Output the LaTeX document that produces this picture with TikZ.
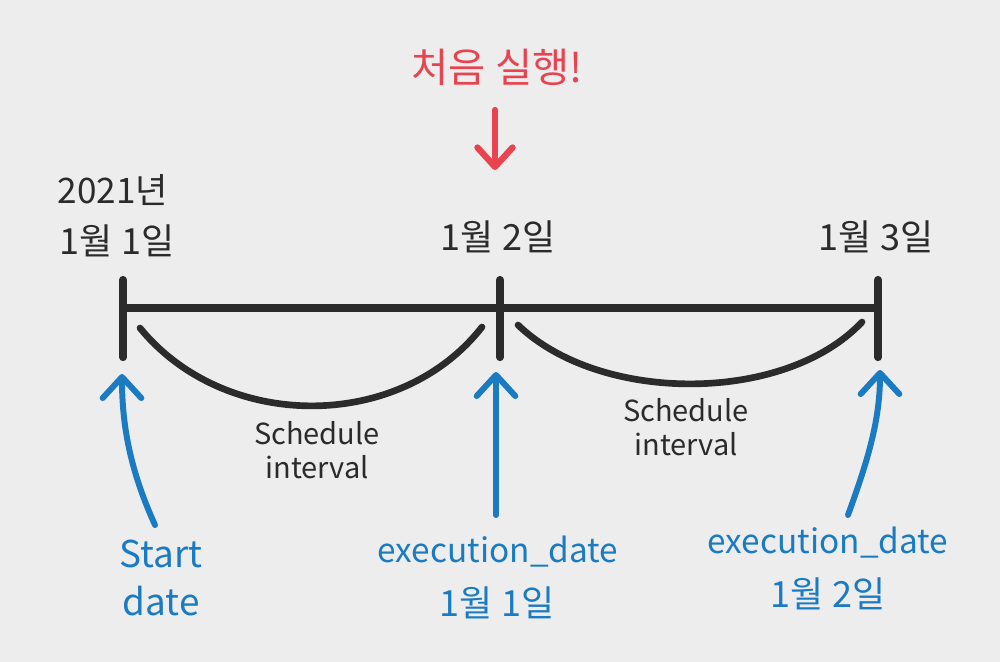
\documentclass[tikz,border=0pt]{standalone}
\usepackage{fontspec}
\setmainfont{Noto Sans CJK KR}
\usetikzlibrary{arrows.meta}
\definecolor{bgcol}{HTML}{EDEDED}
\definecolor{inkcol}{HTML}{2B2B2B}
\definecolor{redcol}{HTML}{E8434F}
\definecolor{bluecol}{HTML}{1A7BC2}

\begin{document}
\begin{tikzpicture}[
  x=0.02cm, y=-0.02cm,
  line cap=round,
  date/.style={text=inkcol, font=\fontsize{20.5}{24}\selectfont, inner sep=0pt},
  ival/.style={text=inkcol, font=\fontsize{16.5}{19}\selectfont, align=center, inner sep=0pt},
  note/.style={text=bluecol, font=\fontsize{19}{25}\selectfont, align=center, inner sep=0pt},
  bar/.style={draw=inkcol, line width=4.5pt},
  swing/.style={draw=inkcol, line width=3.8pt},
  blue arr/.style={draw=bluecol, line width=3.4pt, -{Straight Barb[length=12pt, width=22pt, round]}},
  red arr/.style={draw=redcol, line width=3.6pt, -{Straight Barb[length=11pt, width=20pt, round]}}
]
  \fill[bgcol] (0,0) rectangle (1000,662);
  \useasboundingbox (0,0) rectangle (1000,662);

  % timeline
  \coordinate (d1) at (123,308);
  \coordinate (d2) at (500,308);
  \coordinate (d3) at (878,308);
  \draw[bar] (d1) -- (d2) -- (d3);
  \foreach \t in {d1,d2,d3}
    \draw[bar] ([yshift=-28pt]\t) -- ([yshift=16pt]\t);

  % schedule intervals
  \coordinate (a1) at (140,328);
  \coordinate (a2) at (482,327);
  \coordinate (b1) at (518,325);
  \coordinate (b2) at (862,322);
  \draw[swing] (a1) .. controls (225,432) and (400,432) .. (a2);
  \draw[swing] (b1) .. controls (600,404) and (785,404) .. (b2);

  % labels over the ticks
  \node[date, font=\fontsize{20}{24}\selectfont] (year) at (113,190) {2021년};
  \node[date] (day1) at (117,241) {1월 1일};
  \node[date] (day2) at (498,237) {1월 2일};
  \node[date] (day3) at (876,237) {1월 3일};

  \node[text=redcol, font=\fontsize{23}{27}\selectfont, inner sep=0pt] (first) at (497,67) {처음 실행!};
  \coordinate (r1) at (495,110);
  \coordinate (r2) at (495,170);
  \draw[red arr] (r1) -- (r2);

  \node[ival] (iv1) at (317,450) {Schedule\\interval};
  \node[ival] (iv2) at (686,427) {Schedule\\interval};

  % blue notes below
  \node[note, font=\fontsize{21}{27}\selectfont] (start) at (161,578) {Start\\date};
  \node[note] (ex1) at (498,552) {execution\_date};
  \node[date, text=bluecol] (ex1d) at (497,603) {1월 1일};
  \node[note] (ex2) at (828,543) {execution\_date};
  \node[date, text=bluecol] (ex2d) at (828,594) {1월 2일};

  \coordinate (s1) at (155,525);
  \coordinate (s2) at (122,374);
  \coordinate (m1) at (496,515);
  \coordinate (m2) at (496,372);
  \coordinate (e1) at (848,515);
  \coordinate (e2) at (880,370);
  \draw[blue arr] (s1) .. controls (130,470) and (122,425) .. (s2);
  \draw[blue arr] (m1) -- (m2);
  \draw[blue arr] (e1) .. controls (868,460) and (880,420) .. (e2);
\end{tikzpicture}
\end{document}
